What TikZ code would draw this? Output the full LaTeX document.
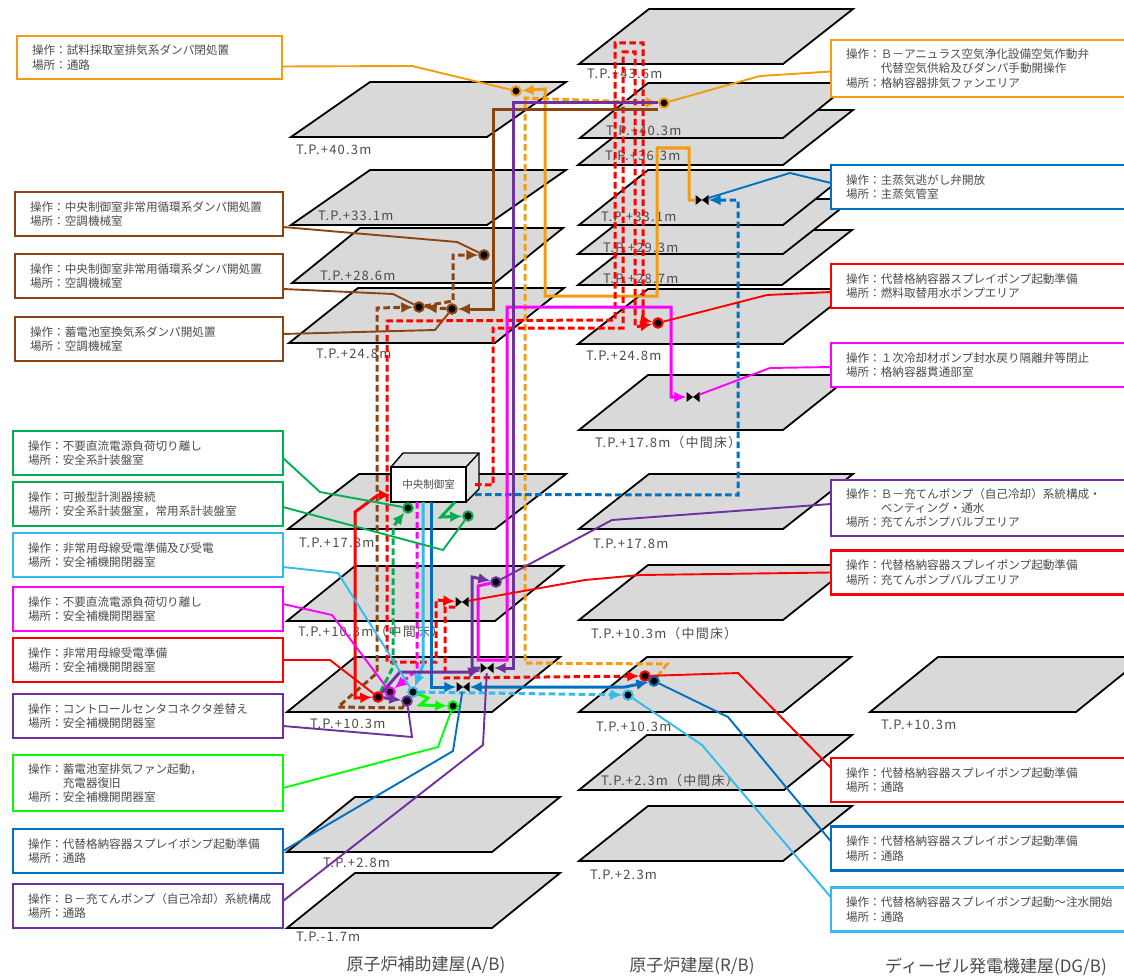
\documentclass[tikz,border=0pt]{standalone}
\usepackage{fontspec}
\setmainfont{Noto Sans CJK JP}
\newfontfamily\tpfont[LetterSpace=9]{Noto Sans CJK JP}
\usetikzlibrary{positioning,arrows.meta}
\definecolor{cOrange}{HTML}{F39C12}
\definecolor{cBrown}{HTML}{8B4513}
\definecolor{cGreen}{HTML}{00B050}
\definecolor{cSky}{HTML}{33BBEE}
\definecolor{cPink}{HTML}{FF00FF}
\definecolor{cRed}{HTML}{FF0000}
\definecolor{cPurple}{HTML}{7030A0}
\definecolor{cLime}{HTML}{00FF00}
\definecolor{cBlue}{HTML}{0070C0}
\definecolor{cFloor}{HTML}{D9D9D9}
\newcommand{\slab}[4]{\draw[slabline] (#1,#2) -- (#1+#3,#2) -- (#1+#3+#4,#2-55) -- (#1+#4,#2-55) -- cycle;}
\tikzset{
    slabline/.style={draw=black,fill=cFloor,line width=1.8pt,line join=miter},
    tplabel/.style={anchor=west,inner sep=0pt,text=black!70,font=\tpfont\fontsize{13}{15}\selectfont},
    titlelabel/.style={inner sep=0pt,text=black!70,font=\fontsize{17}{19}\selectfont},
    opbox/.style={draw=#1,fill=white,line width=2.5pt,outer sep=0pt,inner xsep=15pt,inner ysep=0pt,
        align=left,text=black!70,font=\fontsize{11.6}{14.3}\selectfont},
    leftbox/.style={opbox=#1,text width=238pt,minimum height=44pt},
    rightbox/.style={opbox=#1,text width=290pt,minimum height=44pt},
    pt/.style={circle,fill=black,draw=#1,line width=2pt,inner sep=0pt,minimum size=9.5pt},
    valve/.style={rectangle,inner sep=0pt,minimum width=13pt,minimum height=10pt,
        path picture={\fill[black] (path picture bounding box.south west) -- (path picture bounding box.north east)
            -- (path picture bounding box.south east) -- (path picture bounding box.north west) -- cycle;}},
    route/.style={line width=3pt,line join=miter,>={Latex[length=12pt,width=11pt]}},
    droute/.style={route,dash pattern=on 6.5pt off 3.5pt},
    leader/.style={line width=1.9pt,line join=miter}
}

\begin{document}
\begin{tikzpicture}[x=1pt,y=-1pt]
    \useasboundingbox (0,0) rectangle (1124,979);
    \clip (0,0) rectangle (1124,979);

    \slab{287}{928}{205}{68}
    \slab{287}{852}{205}{68}
    \slab{287}{712}{205}{68}
    \slab{287}{621}{208}{68}
    \slab{288}{529}{207}{71}
    \slab{289}{343}{206}{69}
    \slab{292}{283}{203}{68}
    \slab{291}{225}{196}{79}
    \slab{291}{137}{196}{79}

    \slab{579}{861}{204}{69}
    \slab{579}{790}{205}{68}
    \slab{579}{712}{204}{68}
    \slab{579}{620}{204}{69}
    \slab{579}{529}{204}{70}
    \slab{579}{430}{204}{69}
    \slab{578}{344}{205}{70}
    \slab{578}{285}{204}{70}
    \slab{578}{254}{205}{70}
    \slab{579}{225}{204}{69}
    \slab{578}{165}{205}{70}
    \slab{580}{138}{203}{68}
    \slab{579}{64}{204}{70}
    \slab{870}{712}{206}{68}

    \node[tplabel] (tA403) at (296,150) {T.P.+40.3m};
    \node[tplabel] (tA331) at (318,216) {T.P.+33.1m};
    \node[tplabel] (tA286) at (320,276) {T.P.+28.6m};
    \node[tplabel] (tA248) at (316,354) {T.P.+24.8m};
    \node[tplabel] (tA178) at (299,543) {T.P.+17.8m};
    \node[tplabel] (tA103m) at (298,632) {T.P.+10.3m（中間床）};
    \node[tplabel] (tA103) at (310,724) {T.P.+10.3m};
    \node[tplabel] (tA28) at (323,863) {T.P.+2.8m};
    \node[tplabel] (tA17) at (296,937) {T.P.-1.7m};
    \node[tplabel] (tR436) at (587,74) {T.P.+43.6m};
    \node[tplabel] (tR403) at (606,131) {T.P.+40.3m};
    \node[tplabel] (tR363) at (605,156) {T.P.+36.3m};
    \node[tplabel] (tR331) at (601,217) {T.P.+33.1m};
    \node[tplabel] (tR293) at (603,248) {T.P.+29.3m};
    \node[tplabel] (tR287) at (603,279) {T.P.+28.7m};
    \node[tplabel] (tR248) at (586,356) {T.P.+24.8m};
    \node[tplabel] (tR178m) at (595,443) {T.P.+17.8m（中間床）};
    \node[tplabel] (tR178) at (593,544) {T.P.+17.8m};
    \node[tplabel] (tR103m) at (591,634) {T.P.+10.3m（中間床）};
    \node[tplabel] (tR103) at (596,727) {T.P.+10.3m};
    \node[tplabel] (tR23m) at (601,781) {T.P.+2.3m（中間床）};
    \node[tplabel] (tR23) at (590,875) {T.P.+2.3m};
    \node[tplabel] (tD103) at (881,725) {T.P.+10.3m};

    \node[titlelabel] (ttA) at (426,965) {原子炉補助建屋(A/B)};
    \node[titlelabel] (ttR) at (692,966) {原子炉建屋(R/B)};
    \node[titlelabel] (ttD) at (996,967) {ディーゼル発電機建屋(DG/B)};

    \draw[draw=black,fill=cFloor!80!white,line width=1.4pt] (391,467) -- (403,453) -- (479,453) -- (479,489) -- (466,502) -- cycle;
    \draw[draw=black,line width=1.4pt] (466,467) -- (479,453);
    \node[draw=black,fill=white,line width=1.8pt,outer sep=0pt,minimum width=75pt,minimum height=35pt,
        text=black!70,font=\fontsize{10.5}{12}\selectfont] (cr) at (428.5,484.5) {中央制御室};

    \node[leftbox=cOrange,text width=235pt,minimum height=43pt] (bxSample) at (149.5,57.5) {操作：試料採取室排気系ダンパ閉処置\\場所：通路};
    \node[leftbox=cBrown] (bxCircA) at (149,214) {操作：中央制御室非常用循環系ダンパ開処置\\場所：空調機械室};
    \node[leftbox=cBrown,below=18pt of bxCircA] (bxCircB) {操作：中央制御室非常用循環系ダンパ開処置\\場所：空調機械室};
    \node[leftbox=cBrown,below=19pt of bxCircB] (bxBatt) {操作：蓄電池室換気系ダンパ開処置\\場所：空調機械室};
    \node[leftbox=cGreen,text width=240pt] (bxLoad) at (148,453) {操作：不要直流電源負荷切り離し\\場所：安全系計装盤室};
    \node[leftbox=cGreen,text width=240pt,below=7pt of bxLoad] (bxGauge) {操作：可搬型計測器接続\\場所：安全系計装盤室，常用系計装盤室};
    \node[leftbox=cSky,text width=240pt,below=7pt of bxGauge] (bxBus) {操作：非常用母線受電準備及び受電\\場所：安全補機開閉器室};
    \node[leftbox=cPink,text width=240pt,below=10pt of bxBus] (bxCut) {操作：不要直流電源負荷切り離し\\場所：安全補機開閉器室};
    \node[leftbox=cRed,text width=240pt,below=7pt of bxCut] (bxRecv) {操作：非常用母線受電準備\\場所：安全補機開閉器室};
    \node[leftbox=cPurple,text width=240pt,below=12pt of bxRecv] (bxConn) {操作：コントロールセンタコネクタ差替え\\場所：安全補機開閉器室};
    \node[leftbox=cLime,text width=240pt,minimum height=56pt,below=17pt of bxConn] (bxFan) {操作：蓄電池室排気ファン起動，\\\phantom{操作：}充電器復旧\\場所：安全補機開閉器室};
    \node[leftbox=cBlue,text width=240pt,below=18pt of bxFan] (bxSprayA) {操作：代替格納容器スプレイポンプ起動準備\\場所：通路};
    \node[leftbox=cPurple,text width=240pt,below=11pt of bxSprayA] (bxChargeA) {操作：Ｂ－充てんポンプ（自己冷却）系統構成\\場所：通路};

    \node[rightbox=cOrange,minimum height=57pt,anchor=west] (bxAir) at (831,68.5) {操作：Ｂ－アニュラス空気浄化設備空気作動弁\\\phantom{操作：}代替空気供給及びダンパ手動開操作\\場所：格納容器排気ファンエリア};
    \node[rightbox=cBlue,anchor=west] (bxSteam) at (831,187) {操作：主蒸気逃がし弁開放\\場所：主蒸気管室};
    \node[rightbox=cRed,anchor=west] (bxPool) at (831,286) {操作：代替格納容器スプレイポンプ起動準備\\場所：燃料取替用水ポンプエリア};
    \node[rightbox=cPink,anchor=west] (bxSeal) at (831,365) {操作：１次冷却材ポンプ封水戻り隔離弁等閉止\\場所：格納容器貫通部室};
    \node[rightbox=cPurple,minimum height=56pt,anchor=west] (bxChargeB) at (831,508) {操作：Ｂ－充てんポンプ（自己冷却）系統構成・\\\phantom{操作：}ベンティング・通水\\場所：充てんポンプバルブエリア};
    \node[rightbox=cRed,anchor=west] (bxValve) at (831,572.5) {操作：代替格納容器スプレイポンプ起動準備\\場所：充てんポンプバルブエリア};
    \node[rightbox=cRed,anchor=west] (bxPathA) at (831,780) {操作：代替格納容器スプレイポンプ起動準備\\場所：通路};
    \node[rightbox=cBlue,anchor=west] (bxPathB) at (831,848.5) {操作：代替格納容器スプレイポンプ起動準備\\場所：通路};
    \node[rightbox=cSky,anchor=west] (bxPathC) at (831,909.5) {操作：代替格納容器スプレイポンプ起動～注水開始\\場所：通路};

    \node[pt=cOrange] (mkSample) at (516,91) {};
    \node[pt=cOrange] (mkAir) at (664,103) {};
    \node[pt=cBrown] (mkCircA) at (484,255) {};
    \node[pt=cBrown] (mkCircB) at (419,307) {};
    \node[pt=cBrown] (mkBatt) at (452,309) {};
    \node[pt=cGreen] (mkLoad) at (408,508) {};
    \node[pt=cGreen] (mkGauge) at (468,516) {};
    \node[pt=cPurple] (mkCharge) at (496,582) {};
    \node[pt=cRed] (mkPool) at (658,323) {};
    \node[pt=cPink] (mkCut) at (390,692) {};
    \node[pt=cRed] (mkRecv) at (378,697) {};
    \node[pt=cSky] (mkBus) at (413,692) {};
    \node[pt=cPurple] (mkConn) at (407,701) {};
    \node[pt=cLime] (mkFan) at (453,706) {};
    \node[pt=cRed] (mkPathA) at (645,676) {};
    \node[pt=cBlue] (mkPathB) at (654,681) {};
    \node[pt=cSky] (mkPathC) at (628,695) {};
    \node[valve] (vlSteam) at (702,200) {};
    \node[valve] (vlSeal) at (693,397) {};
    \node[valve] (vlRed) at (462,602) {};
    \node[valve] (vlPurple) at (487,668) {};
    \node[valve] (vlBlue) at (463,687) {};
    \coordinate (brEnd) at (658,110);

    \draw[droute,cOrange,->] (mkPathB) -- (667,664) -- (525,663) -- (525,98) -- (mkAir);
    \draw[route,cOrange,<-] (mkSample) -- (545,89) -- (545,296) -- (657,296) -- (657,148) -- (689,148) -- (689,200) -- (vlSteam);
    \draw[droute,cBlue,->] ([xshift=9pt,yshift=-10pt]cr.east) -- (738,495) -- (738,200) -- (vlSteam);
    \draw[droute,cRed,->] ([xshift=9pt]cr.east) -- (493,485) -- (493,328) -- (623,328) -- (623,52) -- (635,52) -- (635,327) -- (mkPool);
    \draw[droute,cRed,<->] (vlRed) -- (436,600) -- (436,662) -- (387,662) -- (387,321) -- (615,320) -- (615,43) -- (643,43) -- (643,320) -- (mkPool);
    \draw[droute,cRed,->] ([yshift=-5pt]vlRed.west) -- (445,607) -- (445,678) -- (mkPathA);
    \draw[droute,cBrown,->] (mkConn) -- (402,708) -- (338,707) -- (377,673) -- (377,308) -- (mkCircB);
    \draw[droute,cBrown,->] (mkCircB) -- (453,301) -- (453,255) -- (mkCircA);
    \draw[droute,cBrown,->] (mkBatt) -- (mkCircB);
    \draw[route,cBrown,->] (brEnd) -- (493,110) -- (493,309) -- (mkBatt);
    \draw[droute,cGreen,->] (mkRecv) -- (393,667) -- (393,527) -- (mkLoad);
    \draw[route,cGreen,->] ([xshift=26.5pt]cr.south) -- (441,517) -- (mkGauge);
    \draw[droute,cPink,->] ([xshift=-11.5pt]cr.south) -- (417,670) -- (mkCut);
    \draw[route,cSky,->] ([xshift=-5.5pt]cr.south) -- (423,665) -- (mkBus);
    \draw[route,cBlue,->] ([xshift=2.5pt]cr.south) -- (431,687) -- (vlBlue);
    \draw[route,cBlue,<->] (vlBlue) -- (625,687) -- (mkPathB);
    \draw[droute,cSky,->] (mkBus) -- (mkPathC);
    \draw[route,cRed,<->] (mkRecv) -- (355,698) -- (355,512) -- (378,495) -- ([yshift=-10.5pt]cr.west);
    \draw[route,cPink,->] (mkCharge) -- (478,586) -- (478,660) -- (507,660) -- (507,307) -- (671,307) -- (671,397) -- (vlSeal);
    \draw[route,cPurple,->] (mkAir) -- (513,103) -- (513,668) -- (vlPurple);
    \draw[route,cPurple,<-] (mkCharge) -- (472,577) -- (472,668) -- (vlPurple);
    \draw[route,cPurple,->] (mkRecv) -- (400,672) -- (470,672) -- (vlPurple);
    \draw[droute,cPurple,->] (mkRecv) -- (mkConn);
    \draw[route,cLime,->] (mkBus) -- (428,698) -- (420,705) -- (mkFan);

    \draw[leader,cOrange] ([yshift=-9pt]bxSample.east) -- (412,66) -- (mkSample);
    \draw[leader,cBrown] ([yshift=-13pt]bxCircA.east) -- (457,242) -- (mkCircA);
    \draw[leader,cBrown] ([yshift=-13pt]bxCircB.east) -- (393,294) -- (mkCircB);
    \draw[leader,cBrown] ([yshift=5pt]bxBatt.east) -- (435,330) -- (mkBatt);
    \draw[leader,cGreen] ([yshift=-5pt]bxLoad.east) -- (320,492) -- (mkLoad);
    \draw[leader,cGreen] ([yshift=-3pt]bxGauge.east) -- (443,550) -- (mkGauge);
    \draw[leader,cSky] ([yshift=-12pt]bxBus.east) -- (338,573) -- (mkBus);
    \draw[leader,cPink] ([yshift=5pt]bxCut.east) -- (332,615) -- (mkCut);
    \draw[leader,cRed] (bxRecv.east) -- (330,660) -- (mkRecv);
    \draw[leader,cPurple] ([yshift=-10pt]bxConn.east) -- (412,737) -- (mkConn);
    \draw[leader,cLime] ([yshift=-5pt]bxFan.east) -- (438,747) -- (mkFan);
    \draw[leader,cBlue] (bxSprayA.east) -- (453,751) -- (vlBlue);
    \draw[leader,cPurple] ([yshift=5pt]bxChargeA.east) -- (483,745) -- (vlPurple);
    \draw[leader,cOrange] (mkAir) -- (760,76) -- ([yshift=-3pt]bxAir.west);
    \draw[leader,cBlue] (vlSteam) -- (790,173) -- ([yshift=4pt]bxSteam.west);
    \draw[leader,cRed] (mkPool) -- (767,295) -- ([yshift=-6pt]bxPool.west);
    \draw[leader,cPink] (vlSeal) -- (770,368) -- ([yshift=-2pt]bxSeal.west);
    \draw[leader,cPurple] (mkCharge) -- (612,520) -- ([yshift=4pt]bxChargeB.west);
    \draw[leader,cRed] (vlRed) -- (585,580) -- (640,575) -- (bxValve.west);
    \draw[leader,cRed] (mkPathA) -- (738,673) -- ([yshift=12pt]bxPathA.west);
    \draw[leader,cBlue] (mkPathB) -- (728,717) -- ([yshift=7pt]bxPathB.west);
    \draw[leader,cSky] (mkPathC) -- (702,745) -- ([yshift=12pt]bxPathC.west);
\end{tikzpicture}
\end{document}
